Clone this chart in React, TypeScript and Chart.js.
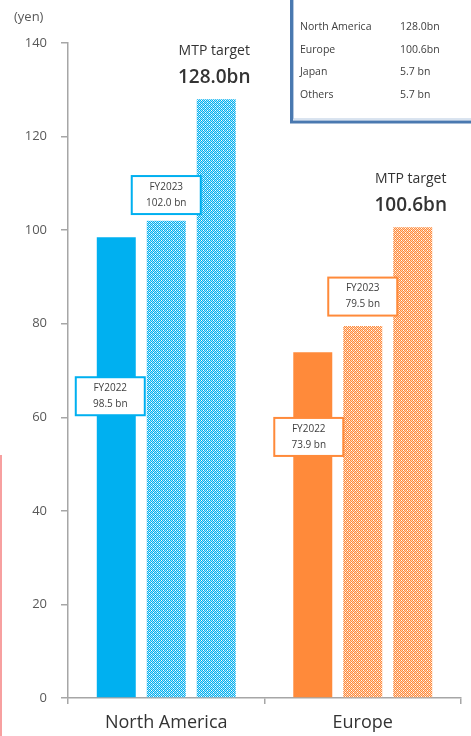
import React, { useEffect, useRef } from "react";
import { Chart, registerables } from "chart.js";

Chart.register(...registerables);

const categories = ["North America", "Europe"];
const fy2022 = [98.5, 73.9];
const fy2023 = [102.0, 79.5];
const mtpTarget = [128.0, 100.6];
const fy2022Labels = ["98.5 bn", "73.9 bn"];
const fy2023Labels = ["102.0 bn", "79.5 bn"];
const mtpLabels = ["128.0bn", "100.6bn"];
const yMin = 0;
const yMax = 140;
const yStep = 20;
const legendRegions = ["North America", "Europe", "Japan", "Others"];
const legendValues = ["128.0bn", "100.6bn", "5.7 bn", "5.7 bn"];

const BLUE = "#00B0F0";
const ORANGE = "#FF8A3A";
const BLUE_LIGHT = "#A8E3FA";
const ORANGE_LIGHT = "#FFD2B3";
const FONT = "'Open Sans', 'DejaVu Sans', sans-serif";

function makePattern(fg: string, light: string): CanvasPattern | string {
  const tile = document.createElement("canvas");
  tile.width = 4;
  tile.height = 4;
  const c = tile.getContext("2d");
  if (!c) return fg;
  for (let x = 0; x < 4; x++) {
    for (let y = 0; y < 4; y++) {
      c.fillStyle = (x + y) % 2 === 0 ? fg : light;
      c.fillRect(x, y, 1, 1);
    }
  }
  c.fillStyle = "#ffffff";
  c.fillRect(1, 0, 1, 1);
  c.fillRect(3, 2, 1, 1);
  const p = c.createPattern(tile, "repeat");
  return p || fg;
}

export default function App() {
  const ref = useRef<HTMLCanvasElement | null>(null);

  useEffect(() => {
    document.body.style.margin = "0";
    const canvas = ref.current;
    if (!canvas) return;
    const bluePat = makePattern(BLUE, BLUE_LIGHT);
    const orangePat = makePattern(ORANGE, ORANGE_LIGHT);

    const overlay = {
      id: "overlay",
      afterDraw(chart: any) {
        const ctx = chart.ctx as CanvasRenderingContext2D;
        const y = chart.scales.y;
        ctx.save();
        // (yen)
        ctx.fillStyle = "#595959";
        ctx.font = `13px ${FONT}`;
        ctx.textAlign = "left";
        ctx.textBaseline = "middle";
        ctx.fillText("(yen)", 14, 17);

        // red line at left edge
        ctx.fillStyle = "#F7A0A0";
        ctx.fillRect(0, 455, 2, 281);

        // legend box (top right)
        ctx.fillStyle = "#ffffff";
        ctx.fillRect(291, -10, 200, 132);
        ctx.strokeStyle = "#4A79B0";
        ctx.lineWidth = 3;
        ctx.strokeRect(291.5, -10, 200, 132);
        ctx.strokeStyle = "#B4C8E0";
        ctx.lineWidth = 1;
        ctx.strokeRect(293.5, -10, 196, 129);
        ctx.fillStyle = "#404040";
        ctx.font = `10.5px ${FONT}`;
        ctx.textBaseline = "middle";
        legendRegions.forEach((r, i) => {
          const yy = 27 + i * 22.7;
          ctx.textAlign = "left";
          ctx.fillText(r, 300, yy);
          ctx.fillText(legendValues[i], 400, yy);
        });

        const box = (cx: number, cy: number, l1: string, l2: string, color: string) => {
          const w = 69;
          const h = 38;
          ctx.fillStyle = "#ffffff";
          ctx.fillRect(cx - w / 2, cy - h / 2, w, h);
          ctx.strokeStyle = color;
          ctx.lineWidth = 2;
          ctx.strokeRect(cx - w / 2, cy - h / 2, w, h);
          ctx.fillStyle = "#404040";
          ctx.font = `10px ${FONT}`;
          ctx.textAlign = "center";
          ctx.textBaseline = "middle";
          ctx.fillText(l1, cx, cy - 8);
          ctx.fillText(l2, cx, cy + 8);
        };

        const m0 = chart.getDatasetMeta(0).data;
        const m1 = chart.getDatasetMeta(1).data;
        const m2 = chart.getDatasetMeta(2).data;
        const colors = [BLUE, ORANGE];
        const fy22Pos = [64.5, 55.8];
        const fy23Pos = [107.5, 85.8];
        const offs22 = [-6, -4];
        categories.forEach((_, i) => {
          box(m0[i].x + offs22[i], y.getPixelForValue(fy22Pos[i]), "FY2022", fy2022Labels[i], colors[i]);
          box(m1[i].x, y.getPixelForValue(fy23Pos[i]), "FY2023", fy2023Labels[i], colors[i]);
          const top = y.getPixelForValue(mtpTarget[i]);
          ctx.fillStyle = "#333333";
          ctx.textAlign = "center";
          ctx.textBaseline = "middle";
          ctx.font = `600 19px ${FONT}`;
          ctx.fillText(mtpLabels[i], m2[i].x - 2, top - 22);
          ctx.font = `14px ${FONT}`;
          ctx.fillText("MTP target", m2[i].x - 2, top - 48);
        });
        ctx.restore();
      },
    };

    const chart = new Chart(canvas, {
      type: "bar",
      data: {
        labels: categories,
        datasets: [
          { label: "FY2022", data: fy2022, backgroundColor: [BLUE, ORANGE] },
          { label: "FY2023", data: fy2023, backgroundColor: [bluePat, orangePat] as any },
          { label: "MTP target", data: mtpTarget, backgroundColor: [bluePat, orangePat] as any },
        ],
      },
      options: {
        responsive: false,
        animation: false,
        devicePixelRatio: 1,
        layout: { padding: { left: 0, top: 43, right: 10, bottom: 0 } },
        plugins: { legend: { display: false }, tooltip: { enabled: false }, title: { display: false } },
        datasets: { bar: { categoryPercentage: 0.763, barPercentage: 0.78 } },
        scales: {
          x: {
            offset: true,
            grid: { display: true, drawOnChartArea: false, drawTicks: true, tickLength: 6, color: "#A6A6A6", offset: true, lineWidth: 1.5 },
            border: { display: true, color: "#A6A6A6", width: 1.5 },
            ticks: { color: "#333333", font: { family: FONT, size: 18 }, padding: 8 },
            afterFit: (s: any) => { s.height = 38; },
          },
          y: {
            min: yMin,
            max: yMax,
            grid: { display: true, drawOnChartArea: false, drawTicks: true, tickLength: 7, color: "#A6A6A6", lineWidth: 1.5 },
            border: { display: true, color: "#A6A6A6", width: 1.5 },
            ticks: { stepSize: yStep, color: "#595959", font: { family: FONT, size: 13 }, padding: 14 },
            afterFit: (s: any) => { s.width = 68; },
          },
        },
      },
      plugins: [overlay],
    });
    return () => chart.destroy();
  }, []);

  return (
    <div style={{ width: 471, height: 736, position: "relative", background: "#fff" }}>
      <canvas ref={ref} width={471} height={736} style={{ width: 471, height: 736, display: "block" }} />
    </div>
  );
}
